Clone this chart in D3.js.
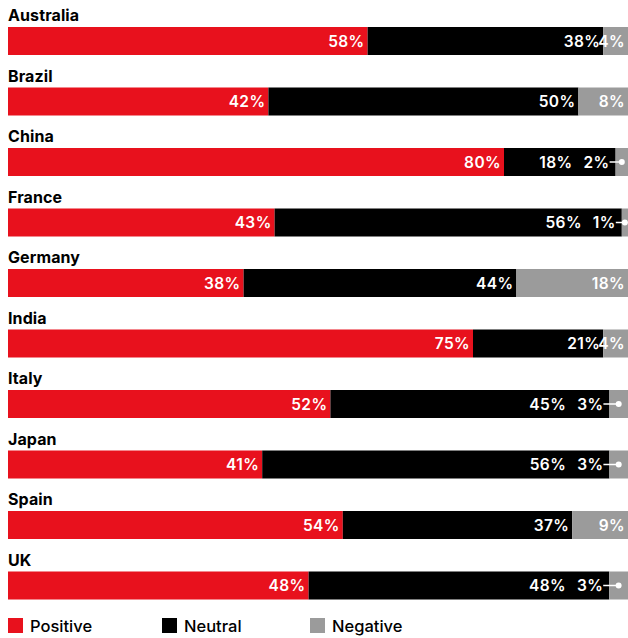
<!DOCTYPE html>
<html>
<head>
<meta charset="utf-8">
<script src="https://cdn.jsdelivr.net/npm/d3@7"></script>
<style>
  body { margin: 0; background: #fff; }
  svg { display: block; }
</style>
</head>
<body>
<script>
var countries = ["Australia", "Brazil", "China", "France", "Germany", "India", "Italy", "Japan", "Spain", "UK"];
var positive = [58, 42, 80, 43, 38, 75, 52, 41, 54, 48];
var neutral  = [38, 50, 18, 56, 44, 21, 45, 56, 37, 48];
var negative = [4, 8, 2, 1, 18, 4, 3, 3, 9, 3];
var seriesNames = ["Positive", "Neutral", "Negative"];
var colors = {"Positive": "#e8111d", "Neutral": "#000000", "Negative": "#9b9b9b"};

var width = 628, height = 638;
var left = 8, right = 628;
var rowStep = 60.5, barTop = 27, barH = 28;

var svg = d3.select("body").append("svg")
    .attr("width", width)
    .attr("height", height);

var rows = d3.range(countries.length).map(function (i) {
    return {name: countries[i], vals: [positive[i], neutral[i], negative[i]]};
});

var yScale = d3.scaleLinear().domain([0, 1]).range([barTop, barTop + rowStep]);

rows.forEach(function (r, i) {
    var total = d3.sum(r.vals);
    var x = d3.scaleLinear().domain([0, total]).range([left, right]);
    var y0 = yScale(i);
    var g = svg.append("g").attr("class", "row");

    // country label
    g.append("text")
        .attr("x", left)
        .attr("y", y0 - 6)
        .style("font-family", "Inter, sans-serif")
        .style("font-weight", 700)
        .style("font-size", "16px")
        .style("letter-spacing", "0.1px")
        .text(r.name);

    // stacked segments
    var cum = 0;
    var segs = r.vals.map(function (v, k) {
        var s = {key: seriesNames[k], v: v, x0: x(cum), x1: x(cum + v)};
        cum += v;
        return s;
    });

    g.selectAll("rect").data(segs).enter().append("rect")
        .attr("x", function (d) { return d.x0; })
        .attr("y", y0)
        .attr("width", function (d) { return d.x1 - d.x0; })
        .attr("height", barH)
        .style("fill", function (d) { return colors[d.key]; });

    function label(txt, xr) {
        return g.append("text")
            .attr("x", xr)
            .attr("y", y0 + barH / 2 + 5.5)
            .attr("text-anchor", "end")
            .style("font-family", "Inter, sans-serif")
            .style("font-weight", 600)
            .style("font-size", "15.5px")
            .style("letter-spacing", "0.4px")
            .style("fill", "#fff")
            .text(txt);
    }

    label(segs[0].v + "%", segs[0].x1 - 3);

    var neg = segs[2];
    if (neg.v < 4) {
        // small share: label sits in neutral bar with a pointer
        var cx = (neg.x0 + neg.x1) / 2;
        var t = label(neg.v + "%", neg.x0 - 6);
        var w = t.node().getComputedTextLength();
        g.append("line")
            .attr("x1", neg.x0 - 6)
            .attr("x2", cx)
            .attr("y1", y0 + barH / 2)
            .attr("y2", y0 + barH / 2)
            .style("stroke", "#fff")
            .style("stroke-width", 1.5);
        g.append("circle")
            .attr("cx", cx)
            .attr("cy", y0 + barH / 2)
            .attr("r", 3)
            .style("fill", "#fff");
        label(segs[1].v + "%", neg.x0 - 6 - w - 11);
    } else {
        label(segs[1].v + "%", segs[1].x1 - 3);
        label(neg.v + "%", neg.x1 - 3);
    }
});

// legend
var legendX = [8, 162, 310];
var legend = svg.append("g").attr("class", "legend");
seriesNames.forEach(function (name, i) {
    legend.append("rect")
        .attr("x", legendX[i])
        .attr("y", 618)
        .attr("width", 15)
        .attr("height", 15)
        .style("fill", colors[name]);
    legend.append("text")
        .attr("x", legendX[i] + 22)
        .attr("y", 632)
        .style("font-family", "Inter, sans-serif")
        .style("font-weight", 500)
        .style("font-size", "16.5px")
        .text(name);
});
</script>
</body>
</html>
